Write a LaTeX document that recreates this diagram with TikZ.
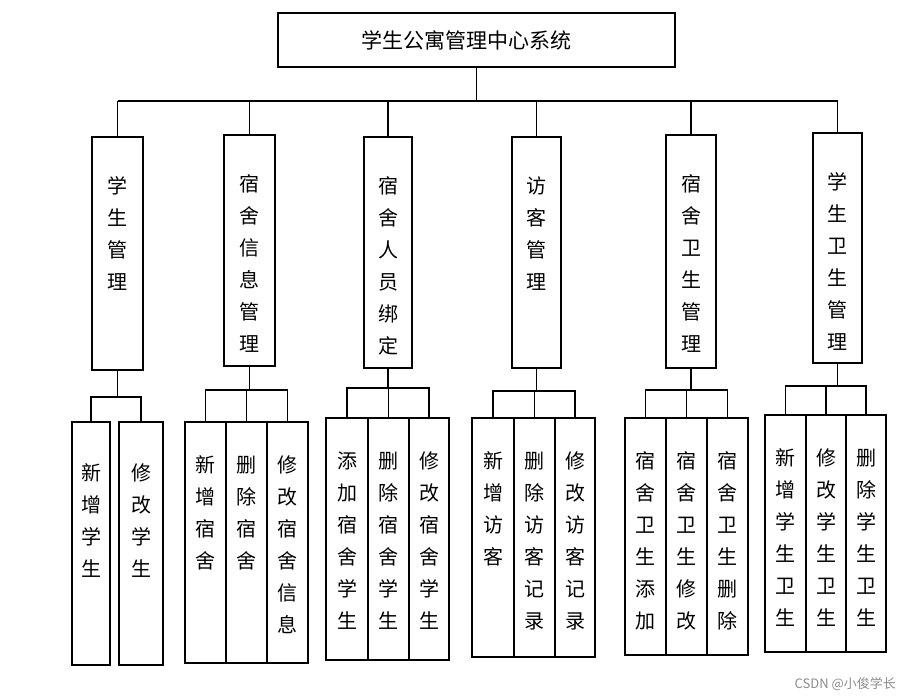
\documentclass[tikz,border=0pt]{standalone}
\usepackage{fontspec}
\newfontfamily\cjk{Noto Sans CJK SC}
\begin{document}
\begin{tikzpicture}[x=1pt,y=-1pt,line width=1.6pt,
  box/.style={draw,inner sep=0pt},
  vt/.style={anchor=north,inner sep=0pt,align=center,font=\cjk\fontsize{20}{32}\selectfont},
  wm/.style={font=\cjk\fontsize{13}{15}\selectfont,text=black!45}]
\useasboundingbox (0,0) rectangle (906,700);
\newcommand\vb[7][34]{%
  \node[box,minimum width={(#4-#2)*1pt},minimum height={(#5-#3)*1pt}] (#6) at ({(#2+#4)/2},{(#3+#5)/2}) {};
  \node[vt] (#6t) at ([yshift=-#1pt]#6.north) {#7};}
\node[box,minimum width=397pt,minimum height=54pt,font=\cjk\fontsize{21}{24}\selectfont] (top) at (476.5,40) {\hspace*{-20pt}学生公寓管理中心系统};
\vb[40]{92}{137}{143}{370}{b1}{学\\生\\管\\理}
\vb[40]{224}{135}{275}{366}{b2}{宿\\舍\\信\\息\\管\\理}
\vb[40]{364}{137}{412}{368}{b3}{宿\\舍\\人\\员\\绑\\定}
\vb[40]{512}{137}{561}{368}{b4}{访\\客\\管\\理}
\vb[40]{666}{135}{716}{368}{b5}{宿\\舍\\卫\\生\\管\\理}
\vb[40]{813}{133}{862}{363}{b6}{学\\生\\卫\\生\\管\\理}
\draw (top.south) -- (top.south |- 0,101);
\draw (b1.north |- 0,101) -- (b6.north |- 0,101);
\foreach \b in {b1,b2,b3,b4,b5,b6} \draw (\b.north) -- (\b.north |- 0,101);
% group 1
\vb[42]{72}{422}{110}{665}{c11}{新\\增\\学\\生}
\vb[42]{119}{422}{163}{665}{c12}{修\\改\\学\\生}
% group 2
\vb{185}{422}{226}{663}{c21}{新\\增\\宿\\舍}
\vb{226}{422}{267}{663}{c22}{删\\除\\宿\\舍}
\vb{267}{422}{308}{663}{c23}{修\\改\\宿\\舍\\信\\息}
% group 3
\vb{326}{418}{368}{660}{c31}{添\\加\\宿\\舍\\学\\生}
\vb{368}{418}{409}{660}{c32}{删\\除\\宿\\舍\\学\\生}
\vb{409}{418}{449}{660}{c33}{修\\改\\宿\\舍\\学\\生}
% group 4
\vb{472}{418}{514}{657}{c41}{新\\增\\访\\客}
\vb{514}{418}{555}{657}{c42}{删\\除\\访\\客\\记\\录}
\vb{555}{418}{595}{657}{c43}{修\\改\\访\\客\\记\\录}
% group 5
\vb{625}{418}{666}{655}{c51}{宿\\舍\\卫\\生\\添\\加}
\vb{666}{418}{707}{655}{c52}{宿\\舍\\卫\\生\\修\\改}
\vb{707}{418}{748}{655}{c53}{宿\\舍\\卫\\生\\删\\除}
% group 6
\vb{765}{415}{806}{652}{c61}{新\\增\\学\\生\\卫\\生}
\vb{806}{415}{846}{652}{c62}{修\\改\\学\\生\\卫\\生}
\vb{846}{415}{886}{652}{c63}{删\\除\\学\\生\\卫\\生}
% connectors
\draw (b1.south) -- (b1.south |- 0,397);
\draw (c11.north) |- (c12.north |- 0,397) -- (c12.north);
\foreach \g/\y in {2/390,3/388,4/391,5/390,6/386}{
  \draw (b\g.south) -- (b\g.south |- 0,\y);
  \draw (c\g1.north) |- (c\g3.north |- 0,\y) -- (c\g3.north);
  \draw (c\g2.north) -- (c\g2.north |- 0,\y);
}
\node[wm,anchor=east] (wmk) at (900,684) {CSDN @小俊学长};
\end{tikzpicture}
\end{document}
